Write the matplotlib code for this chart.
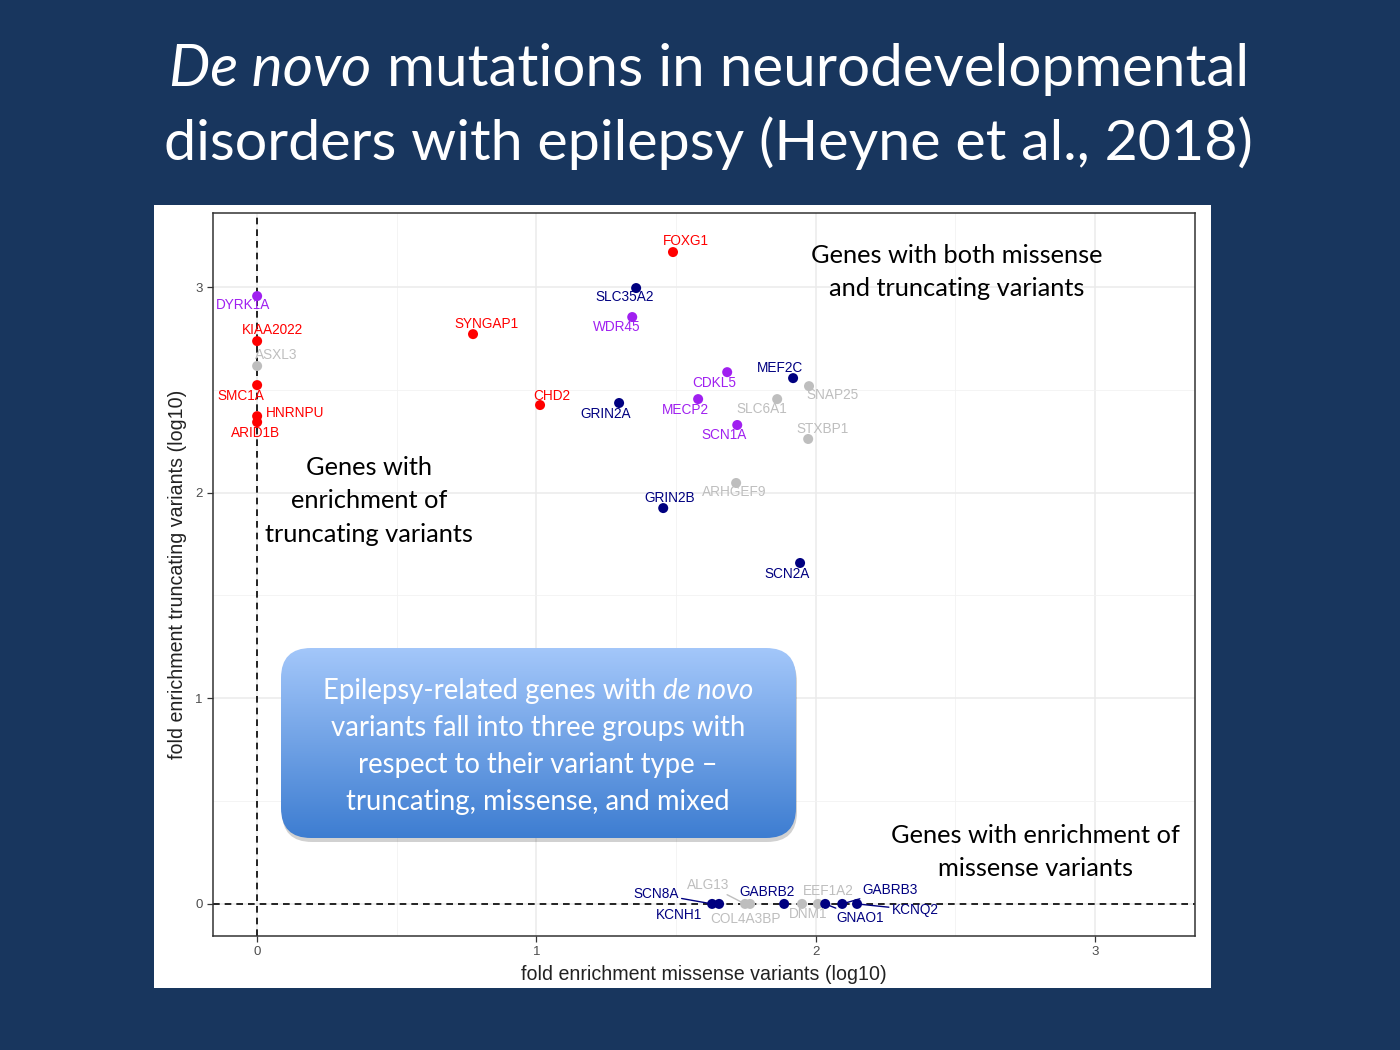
import matplotlib
matplotlib.use('Agg')
import matplotlib.pyplot as plt
import numpy as np
from matplotlib.patches import FancyBboxPatch, Rectangle

# gene, missense log10 fold enrichment, truncating log10 fold enrichment, group
genes = ["DYRK1A", "KIAA2022", "ASXL3", "SMC1A", "HNRNPU", "ARID1B",
         "SYNGAP1", "CHD2", "FOXG1", "SLC35A2", "WDR45", "GRIN2A",
         "CDKL5", "MECP2", "SCN1A", "MEF2C", "SNAP25", "SLC6A1",
         "STXBP1", "ARHGEF9", "GRIN2B", "SCN2A",
         "SCN8A", "KCNH1", "ALG13", "COL4A3BP", "GABRB2", "DNM1",
         "EEF1A2", "GNAO1", "GABRB3", "KCNQ2"]
missense = [0.0, 0.0, 0.0, 0.0, 0.0, 0.0,
            0.773, 1.013, 1.489, 1.357, 1.343, 1.296,
            1.683, 1.579, 1.719, 1.919, 1.976, 1.862,
            1.973, 1.715, 1.454, 1.944,
            1.629, 1.654, 1.747, 1.765, 1.887, 1.951,
            2.008, 2.034, 2.095, 2.148]
truncating = [2.956, 2.737, 2.616, 2.523, 2.372, 2.343,
              2.771, 2.426, 3.170, 2.995, 2.854, 2.436,
              2.586, 2.455, 2.329, 2.557, 2.518, 2.455,
              2.261, 2.047, 1.925, 1.658,
              0.0, 0.0, 0.0, 0.0, 0.0, 0.0,
              0.0, 0.0, 0.0, 0.0]
group = ["purple", "red", "grey", "red", "red", "red",
         "red", "red", "red", "navy", "purple", "navy",
         "purple", "purple", "purple", "navy", "grey", "grey",
         "grey", "grey", "navy", "navy",
         "navy", "navy", "grey", "grey", "navy", "grey",
         "grey", "navy", "navy", "navy"]

group_colors = {"red": "#FF0000", "navy": "#000080",
                "purple": "#A020F0", "grey": "#BEBEBE"}

# label offsets in pixels (dx, dy) and whether a leader line is drawn
label_offsets = {
    "DYRK1A": (-14, -9), "KIAA2022": (15, 11), "ASXL3": (19, 11),
    "SMC1A": (-16, -11), "HNRNPU": (38, 3), "ARID1B": (-2, -11),
    "SYNGAP1": (13, 10), "CHD2": (12, 9), "FOXG1": (13, 11),
    "SLC35A2": (-12, -9), "WDR45": (-15, -10), "GRIN2A": (-13, -11),
    "CDKL5": (-13, -11), "MECP2": (-13, -11), "SCN1A": (-13, -10),
    "MEF2C": (-13, 10), "SNAP25": (24, -9), "SLC6A1": (-15, -10),
    "STXBP1": (14, 10), "ARHGEF9": (-2, -9), "GRIN2B": (6, 10),
    "SCN2A": (-13, -11),
    "SCN8A": (-56, 10), "KCNH1": (-40, -11), "ALG13": (-37, 19),
    "COL4A3BP": (-5, -15), "GABRB2": (-17, 12), "DNM1": (6, -10),
    "EEF1A2": (10, 13), "GNAO1": (35, -14), "GABRB3": (48, 14),
    "KCNQ2": (58, -6),
}
leader = {"SCN8A", "ALG13", "GNAO1", "GABRB3", "KCNQ2"}

W, H = 1400, 1050
fig = plt.figure(figsize=(14, 10.5), dpi=100)
fig.patch.set_facecolor("#18365E")

# background layer: white panel of the pasted figure
bg = fig.add_axes([0, 0, 1, 1], zorder=0)
bg.set_xlim(0, W)
bg.set_ylim(H, 0)
bg.axis("off")
bg.add_patch(Rectangle((154, 205), 1211 - 154, 988 - 205,
                       facecolor="white", edgecolor="none"))

# scatter plot
ax = fig.add_axes([213 / W, 1 - 936 / H, (1195 - 213) / W, (936 - 213) / H], zorder=1)
ax.set_facecolor("white")
ax.set_xlim(-0.158, 3.358)
ax.set_ylim(-0.156, 3.36)
ax.set_xticks([0, 1, 2, 3])
ax.set_yticks([0, 1, 2, 3])
ax.set_xticks([0.5, 1.5, 2.5], minor=True)
ax.set_yticks([0.5, 1.5, 2.5], minor=True)
ax.grid(True, which="major", color="#EBEBEB", linewidth=1.1)
ax.grid(True, which="minor", color="#F2F2F2", linewidth=0.6)
ax.set_axisbelow(True)
for s in ax.spines.values():
    s.set_color("#333333")
    s.set_linewidth(1.1)
ax.tick_params(which="major", colors="#333333", labelcolor="#4D4D4D",
               labelsize=9.5, length=4, width=0.9, direction="out")
ax.tick_params(which="minor", length=0)
for lab in ax.get_xticklabels() + ax.get_yticklabels():
    lab.set_family("Liberation Sans")
ax.axvline(0, color="black", linestyle=(0, (4, 3)), linewidth=1.2, zorder=2)
ax.axhline(0, color="black", linestyle=(0, (4, 3)), linewidth=1.2, zorder=2)
ax.set_xlabel("fold enrichment missense variants (log10)", fontsize=14.1,
              color="#222222", labelpad=5, family="Liberation Sans")
ax.set_ylabel("fold enrichment truncating variants (log10)", fontsize=14.1,
              color="#222222", labelpad=6, family="Liberation Sans")

cols = [group_colors[g] for g in group]
ax.scatter(missense, truncating, s=52, c=cols, zorder=3, linewidths=0)

for g, xv, yv, grp in zip(genes, missense, truncating, group):
    dx, dy = label_offsets[g]
    col = group_colors[grp]
    props = None
    if g in leader:
        props = dict(arrowstyle="-", color=col, lw=1.0, shrinkA=0, shrinkB=3)
    ax.annotate(g, (xv, yv), xytext=(dx, dy), textcoords="offset pixels",
                ha="center", va="center", fontsize=9.8, color=col,
                family="Liberation Sans", arrowprops=props, zorder=4)

# overlay layer: slide text and call-out box
ov = fig.add_axes([0, 0, 1, 1], zorder=2)
ov.set_xlim(0, W)
ov.set_ylim(H, 0)
ov.axis("off")
ov.patch.set_alpha(0)

renderer = fig.canvas.get_renderer()


def mixed_line(y, parts, cx, **kw):
    objs = []
    for txt, style in parts:
        objs.append(ov.text(0, y, txt, style=style, ha="left", va="center", **kw))
    widths = [o.get_window_extent(renderer).width for o in objs]
    x = cx - sum(widths) / 2
    for o, w in zip(objs, widths):
        o.set_x(x)
        x += w


mixed_line(70, [("De novo", "italic"), (" mutations in neurodevelopmental", "normal")],
           709, family="Lato", fontsize=42, color="white")
mixed_line(143, [("disorders with epilepsy (Heyne et al., 2018)", "normal")],
           708, family="Lato", fontsize=41.3, color="white")

note_kw = dict(family="Lato", fontsize=18.3, color="black", ha="center",
               va="center", linespacing=1.53)
ov.text(957, 272, "Genes with both missense\nand truncating variants", **note_kw)
ov.text(369, 501, "Genes with\nenrichment of\ntruncating variants", **note_kw)
ov.text(1035, 852, "Genes with enrichment of\nmissense variants", **note_kw)

# gradient call-out box
bx0, by0, bx1, by1 = 281, 648, 796, 838
shadow = FancyBboxPatch((bx0 + 1, by0 + 4), bx1 - bx0, by1 - by0,
                        boxstyle="round,pad=0,rounding_size=30",
                        facecolor="black", edgecolor="none", alpha=0.18)
ov.add_patch(shadow)
box = FancyBboxPatch((bx0, by0), bx1 - bx0, by1 - by0,
                     boxstyle="round,pad=0,rounding_size=30",
                     facecolor="none", edgecolor="none")
ov.add_patch(box)
top = np.array([0.64, 0.78, 0.98])
bot = np.array([0.24, 0.49, 0.82])
t = np.linspace(0, 1, 256)[:, None]
grad = (top[None, :] * (1 - t) + bot[None, :] * t)[:, None, :]
im = ov.imshow(grad, extent=(bx0, bx1, by1, by0), aspect="auto", zorder=3,
               interpolation="bilinear")
im.set_clip_path(box)
ov.set_xlim(0, W)
ov.set_ylim(H, 0)

box_kw = dict(family="Lato", fontsize=19.8, color="white", zorder=5)
mixed_line(691, [("Epilepsy-related genes with ", "normal"), ("de novo", "italic")],
           538, **box_kw)
mixed_line(728, [("variants fall into three groups with", "normal")], 538, **box_kw)
mixed_line(765, [("respect to their variant type \u2013", "normal")], 538, **box_kw)
mixed_line(802, [("truncating, missense, and mixed", "normal")], 538, **box_kw)

fig.savefig("out.png", dpi=100, facecolor=fig.get_facecolor())
